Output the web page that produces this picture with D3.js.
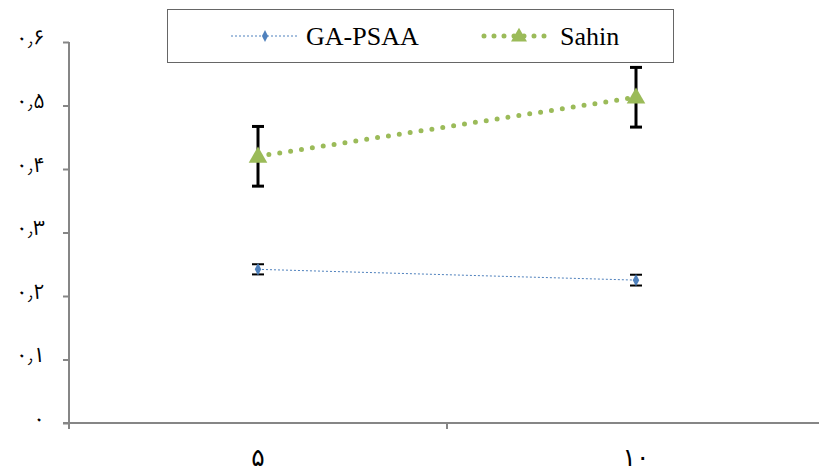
<!DOCTYPE html>
<html>
<head>
<meta charset="utf-8">
<script src="https://cdn.jsdelivr.net/npm/d3@7"></script>
<style>
  body { margin: 0; background: #fff; }
  svg { display: block; }
</style>
</head>
<body>
<script>
// categories and values
var categories = ["۵", "۱۰"];
var gaValues = [0.242, 0.225];
var gaErrors = [0.008, 0.0085];
var sahinValues = [0.42, 0.513];
var sahinErrors = [0.047, 0.047];
var yTicks = [0, 0.1, 0.2, 0.3, 0.4, 0.5, 0.6];
var yTickLabels = ["۰", "۰٫۱", "۰٫۲", "۰٫۳", "۰٫۴", "۰٫۵", "۰٫۶"];
var seriesNames = ["GA-PSAA", "Sahin"];

var chart = {
	width: 819,
	height: 474,
	left: 69,
	right: 825,
	top: 42,
	bottom: 423
};

var svg = d3.select("body")
	.append("svg")
	.attr("width", chart.width)
	.attr("height", chart.height);

var x = d3.scaleBand()
	.domain(categories)
	.range([chart.left, chart.right]);

var y = d3.scaleLinear()
	.domain([0, 0.6])
	.range([chart.bottom, chart.top]);

var axisColor = "#868686";
var digitFont = "'Noto Sans Arabic', 'DejaVu Sans'";

// y axis
var yAxis = svg.append("g")
	.attr("transform", "translate(" + chart.left + ",0)")
	.call(d3.axisLeft(y)
		.tickValues(yTicks)
		.tickSize(6)
		.tickPadding(18)
		.tickFormat(function(d, i){ return yTickLabels[i]; }));
yAxis.select(".domain").remove();
yAxis.append("line")
	.attr("x1", 0).attr("x2", 0)
	.attr("y1", chart.top).attr("y2", chart.bottom + 6)
	.attr("stroke", axisColor)
	.attr("stroke-width", 2);
yAxis.selectAll(".tick line").attr("stroke", axisColor).attr("stroke-width", 2);
yAxis.selectAll(".tick text")
	.attr("fill", "#000")
	.attr("dy", "0.1em")
	.style("font-family", digitFont)
	.style("font-size", "21px");

// x axis
var xAxis = svg.append("g")
	.attr("transform", "translate(0," + chart.bottom + ")")
	.call(d3.axisBottom(x).tickSize(0));
xAxis.select(".domain").remove();
xAxis.append("line")
	.attr("x1", chart.left - 6).attr("x2", chart.width)
	.attr("y1", 0).attr("y2", 0)
	.attr("stroke", axisColor)
	.attr("stroke-width", 2);
xAxis.selectAll(".sep")
	.data([chart.left + x.step()])
	.enter()
	.append("line")
	.attr("x1", function(d){ return d; })
	.attr("x2", function(d){ return d; })
	.attr("y1", 0).attr("y2", 6)
	.attr("stroke", axisColor)
	.attr("stroke-width", 2);
xAxis.selectAll(".tick text")
	.attr("fill", "#000")
	.attr("y", 43)
	.attr("dy", "0")
	.style("font-family", "DejaVu Sans")
	.style("font-size", "25px");

function cx(d, i){ return x(categories[i]) + x.bandwidth() / 2; }

// series lines
var line = d3.line()
	.x(function(d, i){ return cx(d, i); })
	.y(function(d){ return y(d); });

svg.append("path")
	.datum(gaValues)
	.attr("d", line)
	.attr("fill", "none")
	.attr("stroke", "#4F81BD")
	.attr("stroke-width", 1)
	.attr("stroke-dasharray", "2,2");

svg.append("path")
	.datum(sahinValues)
	.attr("d", line)
	.attr("fill", "none")
	.attr("stroke", "#9BBB59")
	.attr("stroke-width", 5)
	.attr("stroke-linecap", "round")
	.attr("stroke-dasharray", "0,11");

// error bars
function errorBars(values, errors, capW, width){
	var g = svg.append("g").attr("stroke", "#000").attr("stroke-width", width);
	values.forEach(function(v, i){
		var px = cx(v, i);
		g.append("line")
			.attr("x1", px).attr("x2", px)
			.attr("y1", y(v + errors[i])).attr("y2", y(v - errors[i]));
		[v + errors[i], v - errors[i]].forEach(function(e){
			g.append("line")
				.attr("x1", px - capW / 2).attr("x2", px + capW / 2)
				.attr("y1", y(e)).attr("y2", y(e));
		});
	});
}
errorBars(gaValues, gaErrors, 12, 2);
errorBars(sahinValues, sahinErrors, 12, 3);

// markers
svg.selectAll(".ga")
	.data(gaValues)
	.enter()
	.append("path")
	.attr("d", d3.symbol(d3.symbolDiamond, 45))
	.attr("transform", function(d, i){ return "translate(" + cx(d, i) + "," + y(d) + ") scale(0.9,1)"; })
	.attr("fill", "#4F81BD");

svg.selectAll(".sahin")
	.data(sahinValues)
	.enter()
	.append("path")
	.attr("d", d3.symbol(d3.symbolTriangle, 150))
	.attr("transform", function(d, i){ return "translate(" + cx(d, i) + "," + (y(d) + 1) + ")"; })
	.attr("fill", "#9BBB59");

// legend
var legend = svg.append("g");
legend.append("rect")
	.attr("x", 167.5).attr("y", 9.5)
	.attr("width", 506).attr("height", 53)
	.attr("fill", "#fff")
	.attr("stroke", "#666")
	.attr("stroke-width", 1);

legend.append("line")
	.attr("x1", 231).attr("x2", 297)
	.attr("y1", 36).attr("y2", 36)
	.attr("stroke", "#4F81BD")
	.attr("stroke-width", 1)
	.attr("stroke-dasharray", "2,2");
legend.append("path")
	.attr("d", d3.symbol(d3.symbolDiamond, 40))
	.attr("transform", "translate(265,36) scale(0.9,1)")
	.attr("fill", "#4F81BD");

legend.append("line")
	.attr("x1", 484).attr("x2", 545)
	.attr("y1", 36).attr("y2", 36)
	.attr("stroke", "#9BBB59")
	.attr("stroke-width", 5)
	.attr("stroke-linecap", "round")
	.attr("stroke-dasharray", "0,10");
legend.append("path")
	.attr("d", d3.symbol(d3.symbolTriangle, 110))
	.attr("transform", "translate(519,37)")
	.attr("fill", "#9BBB59");

legend.selectAll("text")
	.data(seriesNames)
	.enter()
	.append("text")
	.attr("x", function(d, i){ return i === 0 ? 306 : 560; })
	.attr("y", 45)
	.style("font-family", "Liberation Serif")
	.style("font-size", "26px")
	.text(function(d){ return d; });
</script>
</body>
</html>
